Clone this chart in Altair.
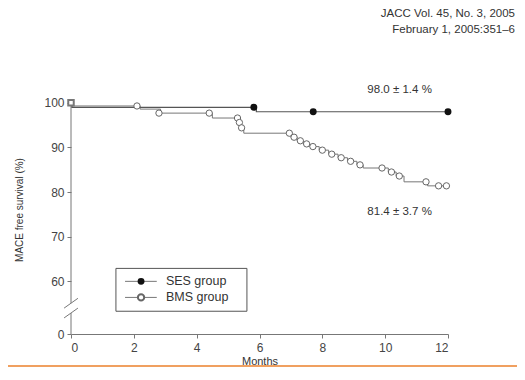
import altair as alt
import pandas as pd

# ---------------- data ----------------
ses_t = [0, 0.03, 5.9, 12]
ses_s = [100, 99.0, 98.0, 98.0]
ses_mark_t = [5.82, 7.71, 12.0]
ses_mark_s = [99.0, 98.0, 98.0]

bms_t = [0, 0.03, 2.2, 2.85, 4.5, 5.35, 5.42, 5.5, 7.0, 7.2, 7.4, 7.6, 7.9,
         8.2, 8.5, 8.8, 9.1, 9.3, 10.1, 10.35, 10.6, 11.35, 12.0]
bms_s = [100, 99.3, 98.6, 97.7, 96.6, 95.6, 94.4, 93.2, 92.3, 91.5, 90.8, 90.2, 89.4,
         88.5, 87.7, 86.9, 86.1, 85.4, 84.5, 83.6, 82.3, 81.4, 81.4]
bms_mark_t = [2.1, 2.8, 4.4, 5.3, 5.36, 5.43, 6.95, 7.1, 7.3, 7.5, 7.7, 8.0, 8.3,
              8.6, 8.9, 9.2, 9.9, 10.2, 10.45, 11.3, 11.7, 11.95]
bms_mark_s = [99.3, 97.7, 97.7, 96.6, 95.6, 94.4, 93.2, 92.3, 91.5, 90.8, 90.2, 89.4, 88.5,
              87.7, 86.9, 86.1, 85.4, 84.5, 83.6, 82.3, 81.4, 81.4]

x_ticks = [0, 2, 4, 6, 8, 10, 12]
y_ticks = [48.2, 60, 70, 80, 90, 100]   # 48.2 is the broken-axis position labelled "0"

header_lines = ["JACC Vol. 45, No. 3, 2005", "February 1, 2005:351\u20136"]
annot_text = ["98.0 \u00b1 1.4 %", "81.4 \u00b1 3.7 %"]
annot_t = [10.46, 10.46]
annot_s = [102.85, 75.5]

legend_names = ["SES group", "BMS group"]
legend_s = [60.0, 56.4]

FONT = "Liberation Sans"
GRAY = "#555555"

xs = alt.Scale(domain=[0, 12], nice=False, zero=False)
ys = alt.Scale(domain=[48.2, 104.0], nice=False, zero=False)
xaxis = alt.Axis(values=x_ticks, title="Months", grid=False, tickSize=4,
                 labelFontSize=12, labelColor="#444", labelPadding=4, labelFont=FONT,
                 domainColor="#777", tickColor="#777", titleFont=FONT, titleFontSize=11,
                 titleFontWeight="normal", titleColor="#333", titlePadding=2)
yaxis = alt.Axis(values=y_ticks, title="MACE free survival (%)", grid=False, domain=False,
                 tickSize=4, tickColor="#777", labelFontSize=12, labelColor="#444",
                 labelFont=FONT, labelPadding=3,
                 labelExpr="datum.value < 50 ? '0' : datum.label",
                 titleFont=FONT, titleFontSize=10, titleFontWeight="normal",
                 titleColor="#333", titlePadding=19)


def X(f):
    return alt.X(f, type="quantitative", scale=xs, axis=xaxis)


def Y(f):
    return alt.Y(f, type="quantitative", scale=ys, axis=yaxis)


ses = pd.DataFrame({"t": ses_t, "s": ses_s})
ses_m = pd.DataFrame({"t": ses_mark_t, "s": ses_mark_s})
bms = pd.DataFrame({"t": bms_t, "s": bms_s})
bms_m = pd.DataFrame({"t": bms_mark_t, "s": bms_mark_s})

bms_line = alt.Chart(bms).mark_line(interpolate="step-after", color="#777", strokeWidth=1).encode(
    x=X("t"), y=Y("s"))
ses_line = alt.Chart(ses).mark_line(interpolate="step-after", color=GRAY, strokeWidth=1.2).encode(
    x=X("t"), y=Y("s"))
bms_pts = alt.Chart(bms_m).mark_point(shape="circle", filled=True, fill="white", stroke="#666",
                                      strokeWidth=1, size=40, opacity=1).encode(x=X("t"), y=Y("s"))
ses_pts = alt.Chart(ses_m).mark_point(shape="circle", filled=True, color="#111", size=48,
                                      opacity=1).encode(x=X("t"), y=Y("s"))
start_pt = alt.Chart(pd.DataFrame({"t": [0], "s": [100]})).mark_point(
    shape="square", filled=True, fill="white", stroke="#777", size=30, opacity=1).encode(
    x=X("t"), y=Y("s"))

# y axis line with a break
axis_seg = pd.DataFrame({"t": [0, 0], "s0": [48.2, 55.1], "s1": [52.9, 100]})
yline = alt.Chart(axis_seg).mark_rule(color="#777", strokeWidth=1).encode(
    x=X("t"), y=Y("s0"), y2="s1")
brk = pd.DataFrame({"t0": [-0.22, -0.22], "t1": [0.22, 0.22],
                    "s0": [51.8, 54.0], "s1": [54.0, 56.2]})
breaks = alt.Chart(brk).mark_rule(color="#777", strokeWidth=1).encode(
    x=X("t0"), x2="t1", y=Y("s0"), y2="s1")

annots = alt.Chart(pd.DataFrame({"t": annot_t, "s": annot_s, "txt": annot_text})).mark_text(
    font=FONT, fontSize=11.5, color="#333", align="center", baseline="middle").encode(
    x=X("t"), y=Y("s"), text="txt")

# legend
leg_box = alt.Chart(pd.DataFrame({"t0": [1.43], "t1": [5.6], "s0": [53.3], "s1": [62.9]})).mark_rect(
    fillOpacity=0, stroke="#555", strokeWidth=1).encode(x=X("t0"), x2="t1", y=Y("s0"), y2="s1")
leg_df = pd.DataFrame({"name": legend_names, "s": legend_s, "l0": [1.72, 1.72], "l1": [2.73, 2.73],
                       "m": [2.23, 2.23], "tx": [3.02, 3.02]})
leg_lines = alt.Chart(leg_df).mark_rule(color="#777", strokeWidth=1).encode(
    x=X("l0"), x2="l1", y=Y("s"))
leg_ses = alt.Chart(leg_df.iloc[[0]]).mark_point(shape="circle", filled=True, color="#111",
                                                  size=48, opacity=1).encode(x=X("m"), y=Y("s"))
leg_bms = alt.Chart(leg_df.iloc[[1]]).mark_point(shape="circle", filled=True, fill="white",
                                                  stroke="#666", size=40, opacity=1).encode(
    x=X("m"), y=Y("s"))
leg_txt = alt.Chart(leg_df).mark_text(font=FONT, fontSize=12.5, color="#333", align="left",
                                      baseline="middle").encode(x=X("tx"), y=Y("s"), text="name")

hdr_df = pd.DataFrame({"line": header_lines})
header1 = alt.Chart(hdr_df.iloc[[0]]).mark_text(
    font=FONT, fontSize=11.5, color="#333", align="right", baseline="middle").encode(
    x=alt.value(444), y=alt.value(-71), text="line")
header2 = alt.Chart(hdr_df.iloc[[1]]).mark_text(
    font=FONT, fontSize=11.5, color="#333", align="right", baseline="middle").encode(
    x=alt.value(444), y=alt.value(-55), text="line")

border = alt.Chart(pd.DataFrame({"a": [0]})).mark_rule(color="#f0a060", strokeWidth=2).encode(
    x=alt.value(-70), x2=alt.value(446), y=alt.value(281))

chart = alt.layer(
    yline, breaks, bms_line, ses_line, bms_pts, ses_pts, start_pt, annots,
    leg_box, leg_lines, leg_ses, leg_bms, leg_txt, header1, header2, border
).properties(
    width=377, height=249,
    autosize=alt.AutoSizeParams(type="none"),
    padding={"left": 63, "top": 77, "right": 69, "bottom": 33},
    background="white",
).configure_view(stroke=None)

chart.save("out.html", embed_options={"renderer": "svg", "actions": False})
